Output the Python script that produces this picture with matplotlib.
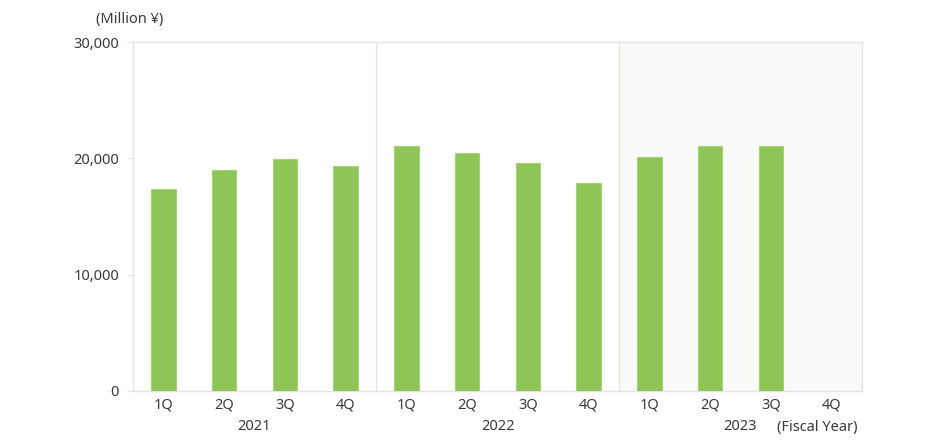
import matplotlib
matplotlib.use("Agg")
import matplotlib.pyplot as plt
import numpy as np

years = ["2021", "2022", "2023"]
quarters = ["1Q", "2Q", "3Q", "4Q"]
values = [17400, 19000, 19900, 19300,
          21100, 20500, 19600, 17900,
          20100, 21050, 21050, None]
yticks = [0, 10000, 20000, 30000]
ytick_labels = ["0", "10,000", "20,000", "30,000"]

plt.rcParams['font.family'] = ['Noto Sans', 'DejaVu Sans']
TXT = "#3a3a3a"
GRID = "#e4e4e4"
BAR = "#8dc556"

fig = plt.figure(figsize=(9.30, 4.41), dpi=100)
ax = fig.add_axes([133/930, 1 - 391/441, (862-133)/930, (391-42)/441])

n = len(values)
x = np.arange(n)
for i, v in enumerate(values):
    if v is not None:
        ax.bar(x[i], v, width=0.40, color=BAR, edgecolor="#a6d27a", linewidth=0.8, zorder=3)

ax.set_xlim(-0.5, n - 0.5)
ax.set_ylim(0, 30000)

# shaded latest year
ax.axvspan(7.5, n - 0.5, color="#f9f9f7", zorder=0, lw=0)
# year dividers
for b in [3.5, 7.5]:
    ax.axvline(b, color=GRID, lw=0.9, zorder=1)

for s in ax.spines.values():
    s.set_color(GRID)
    s.set_linewidth(1.0)

ax.set_yticks(yticks)
ax.set_yticklabels(ytick_labels, fontsize=10.5, color=TXT)
ax.tick_params(axis='y', length=4, color=GRID, pad=6)
ax.set_xticks(x)
ax.set_xticklabels(quarters * len(years), fontsize=10.5, color=TXT)
ax.tick_params(axis='x', length=0, pad=5)

for j, yr in enumerate(years):
    cx = 4 * j + 1.5
    ax.text(cx, -0.103, yr, transform=ax.get_xaxis_transform(), ha='center', va='center',
            fontsize=10.5, color=TXT)
ax.text(857/930, 1 - 427/441, "(Fiscal Year)", transform=fig.transFigure, ha='right', va='center',
        fontsize=10.5, color=TXT)
fig.text(96/930, 1 - 19/441, "(Million ¥)", ha='left', va='center', fontsize=10.5, color=TXT)

fig.savefig("out.png", dpi=100, facecolor="white")
